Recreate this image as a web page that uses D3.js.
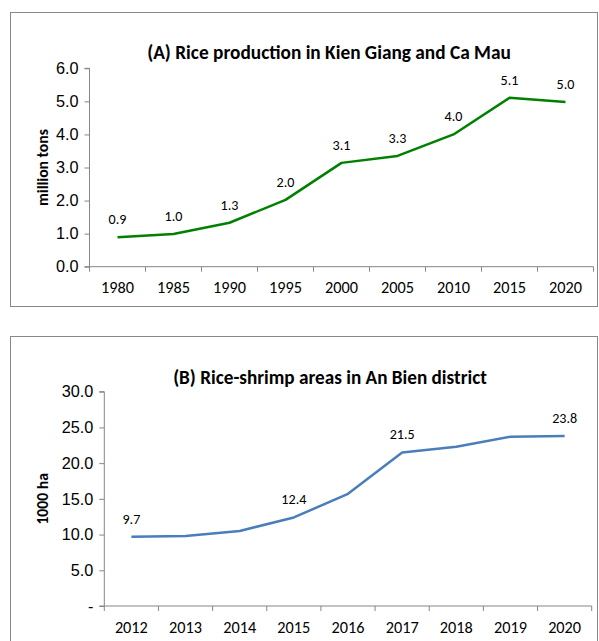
<!DOCTYPE html>
<html>
<head>
<meta charset="utf-8">
<script src="https://cdn.jsdelivr.net/npm/d3@7"></script>
<style>
  body { margin: 0; background: #fff; }
  svg { display: block; font-family: Carlito, Calibri, Lato, sans-serif; }
  .axis path, .axis line { stroke: #868686; }
  .axis text { fill: #000; }
</style>
</head>
<body>
<svg id="chart" width="599" height="641"></svg>
<script>
(function (d3) {
    'use strict';

    // (A) rice production, million tons
    var yearsA = ['1980', '1985', '1990', '1995', '2000', '2005', '2010', '2015', '2020'];
    var riceA = [0.89, 0.99, 1.33, 2.02, 3.14, 3.35, 4.0, 5.11, 4.98];
    var labelsA = ['0.9', '1.0', '1.3', '2.0', '3.1', '3.3', '4.0', '5.1', '5.0'];
    var ticksA = [0, 1, 2, 3, 4, 5, 6];

    // (B) rice-shrimp area, 1000 ha
    var yearsB = ['2012', '2013', '2014', '2015', '2016', '2017', '2018', '2019', '2020'];
    var areaB = [9.7, 9.8, 10.5, 12.4, 15.7, 21.5, 22.3, 23.7, 23.8];
    var labelsB = ['9.7', '', '', '12.4', '', '21.5', '', '', '23.8'];
    var ticksB = [0, 5, 10, 15, 20, 25, 30];

    var svg = d3.select('#chart');

    // font size that makes `txt` come out `target` px wide
    function sizeFor(txt, weight, target) {
        var t = svg.append('text').style('font-size', '20px').style('font-weight', weight).text(txt);
        var w = t.node().getComputedTextLength();
        t.remove();
        return 20 * target / w;
    }

    var tickSize = sizeFor('1980', 'normal', 33);
    var labelSize = sizeFor('21.5', 'normal', 25);
    var yTitleSize = sizeFor('million tons', 'bold', 77);

    function drawChart(opt) {
        var box = opt.box, plot = opt.plot;

        svg.append('rect')
            .attr('x', box.x + 0.5).attr('y', box.y + 0.5)
            .attr('width', box.w).attr('height', box.h)
            .attr('fill', '#fff').attr('stroke', '#888').attr('stroke-width', 1);

        var x = d3.scaleBand().domain(opt.cats).range([plot.left, plot.right]);
        var y = d3.scaleLinear().domain([0, d3.max(opt.ticks)]).range([plot.bottom, plot.top]);

        var g = svg.append('g');

        svg.append('text')
            .attr('x', opt.titleX).attr('y', opt.titleY)
            .attr('text-anchor', 'middle')
            .attr('dy', '0.35em')
            .style('font-size', sizeFor(opt.title, 'bold', opt.titleW) + 'px').style('font-weight', 'bold')
            .text(opt.title);

        svg.append('text')
            .attr('transform', 'translate(42,' + (plot.top + plot.bottom) / 2 + ') rotate(-90)')
            .attr('text-anchor', 'middle').attr('dy', '0.35em')
            .style('font-size', yTitleSize + 'px').style('font-weight', 'bold')
            .text(opt.yTitle);

        // y axis
        g.append('g')
            .attr('class', 'axis')
            .attr('transform', 'translate(' + plot.left + ',0)')
            .call(d3.axisLeft(y).tickValues(opt.ticks).tickSize(5).tickPadding(6)
                .tickFormat(opt.yFormat))
            .call(function (a) {
                a.select('.domain').attr('d', 'M-5,' + y(d3.max(opt.ticks)) + 'H0V' + y(0) + 'H-5');
                a.selectAll('text').style('font-size', tickSize + 'px');
            });

        // x axis, ticks at category boundaries
        var xa = g.append('g')
            .attr('class', 'axis')
            .attr('transform', 'translate(0,' + plot.bottom + ')');
        xa.append('line')
            .attr('x1', plot.left).attr('x2', plot.right);
        xa.selectAll('.tk')
            .data(opt.cats.concat(['end']))
            .enter().append('line')
            .attr('x1', function (d, i) { return i < opt.cats.length ? x(d) : plot.right; })
            .attr('x2', function (d, i) { return i < opt.cats.length ? x(d) : plot.right; })
            .attr('y1', 0).attr('y2', 5);
        xa.selectAll('text')
            .data(opt.cats)
            .enter().append('text')
            .attr('x', function (d) { return x(d) + x.bandwidth() / 2; })
            .attr('y', opt.xLabelDy)
            .attr('text-anchor', 'middle').attr('dy', '0.35em')
            .style('font-size', tickSize + 'px')
            .text(function (d) { return d; });

        var line = d3.line()
            .x(function (d, i) { return x(opt.cats[i]) + x.bandwidth() / 2; })
            .y(function (d) { return y(d); });

        g.append('path')
            .datum(opt.values)
            .attr('fill', 'none')
            .attr('stroke', opt.color)
            .attr('stroke-width', 2.5)
            .attr('stroke-linejoin', 'round')
            .attr('d', line);

        g.selectAll('.lbl')
            .data(opt.values)
            .enter().append('text')
            .attr('x', function (d, i) { return x(opt.cats[i]) + x.bandwidth() / 2; })
            .attr('y', function (d) { return y(d) - 18; })
            .attr('text-anchor', 'middle').attr('dy', '0.35em')
            .style('font-size', labelSize + 'px')
            .text(function (d, i) { return opt.labels[i]; });
    }

    drawChart({
        box: { x: 10, y: 12, w: 587, h: 294 },
        plot: { left: 89.5, right: 593.5, top: 68.3, bottom: 266.7 },
        cats: yearsA, values: riceA, labels: labelsA, ticks: ticksA,
        yFormat: d3.format('.1f'),
        color: '#008000',
        title: '(A) Rice production in Kien Giang and Ca Mau',
        titleX: 329, titleY: 52, titleW: 364,
        yTitle: 'million tons',
        xLabelDy: 21
    });

    drawChart({
        box: { x: 10, y: 336, w: 587, h: 320 },
        plot: { left: 104.3, right: 591.7, top: 391.7, bottom: 606 },
        cats: yearsB, values: areaB, labels: labelsB, ticks: ticksB,
        yFormat: function (d) { return d === 0 ? '-' : d3.format('.1f')(d); },
        color: '#4a7ebb',
        title: '(B) Rice-shrimp areas in An Bien district',
        titleX: 330, titleY: 377, titleW: 314,
        yTitle: '1000 ha',
        xLabelDy: 21
    });
})(window.d3);
</script>
</body>
</html>
